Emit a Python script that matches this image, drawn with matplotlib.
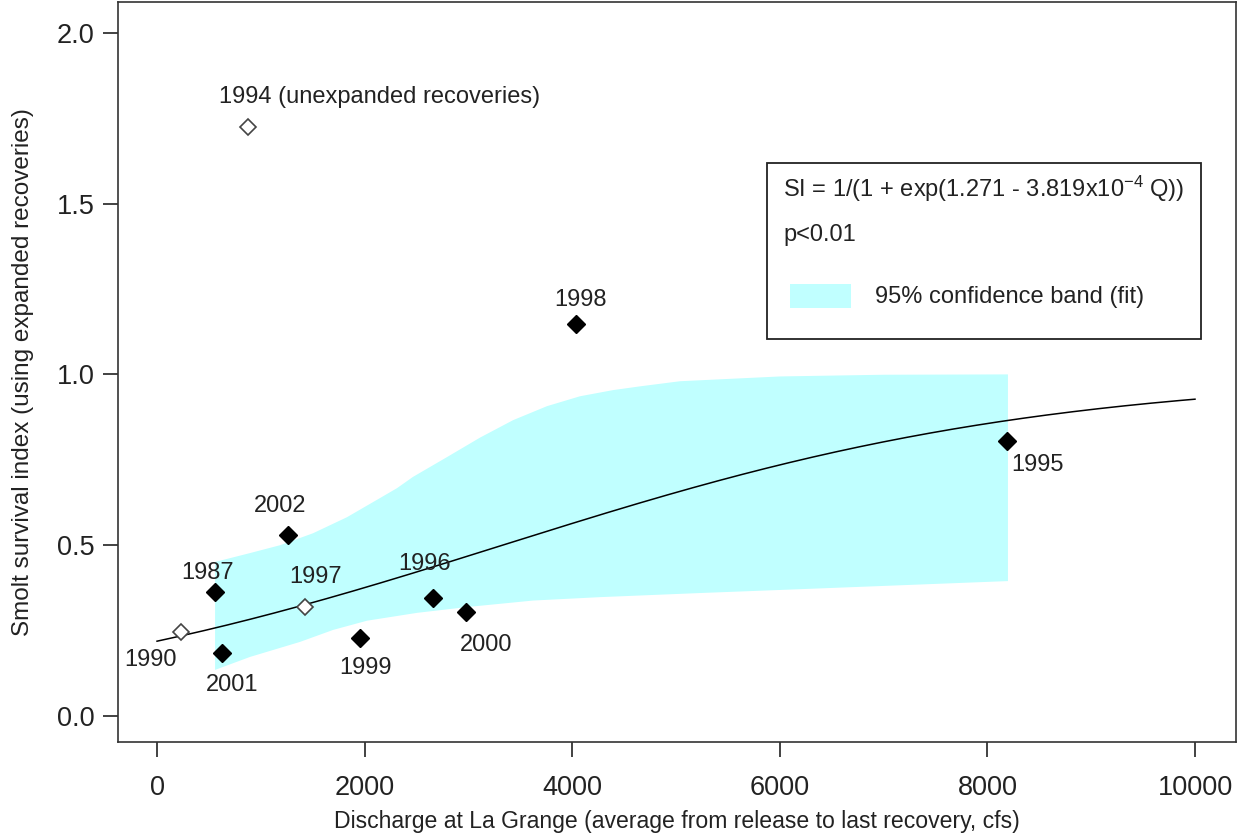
import numpy as np
import matplotlib
matplotlib.use("Agg")
import matplotlib.pyplot as plt
from matplotlib.patches import Rectangle

plt.rcParams["font.family"] = ["Liberation Sans", "DejaVu Sans"]
plt.rcParams["mathtext.fontset"] = "custom"
plt.rcParams["mathtext.rm"] = "Liberation Sans"
plt.rcParams["mathtext.it"] = "Liberation Sans:italic"

# survival index by year (expanded recoveries)
years   = ["1987", "1990", "2001", "2002", "1997", "1999", "1996", "2000", "1998", "1995", "1994"]
flow    = [559, 231, 626, 1262, 1426, 1956, 2659, 2977, 4037, 8190, 877]
surv    = [0.363, 0.246, 0.184, 0.530, 0.319, 0.228, 0.346, 0.305, 1.148, 0.805, 1.725]
hollow  = [False, True, False, False, True, False, False, False, False, False, True]
labels  = ["1987", "1990", "2001", "2002", "1997", "1999", "1996", "2000", "1998", "1995",
           "1994 (unexpanded recoveries)"]
# label offsets (pixels) from each point
offs    = [(-7, 19), (-31, -28), (10, -32), (-8, 29), (11, 30), (5, -30), (-8, 34), (20, -33),
           (4, 24), (30, -24), (132, 30)]

# 95% confidence band of the fit
band_q  = [559, 896, 1185, 1503, 1830, 2148, 2312, 2466, 2794, 3112, 3430, 3757, 4075, 4393,
           4653, 5039, 6002, 7000, 8198]
band_hi = [0.451, 0.477, 0.500, 0.535, 0.582, 0.638, 0.667, 0.700, 0.758, 0.815, 0.866, 0.907,
           0.936, 0.954, 0.965, 0.980, 0.994, 0.999, 1.000]
band_lq = [559, 896, 1378, 1696, 2023, 2505, 2987, 3622, 4268, 5231, 6002, 8198]
band_lo = [0.135, 0.173, 0.217, 0.252, 0.279, 0.302, 0.319, 0.338, 0.348, 0.360, 0.369, 0.395]

# logistic fit SI = 1/(1 + exp(a - b Q))
a, b = 1.271, 3.819e-4

fig = plt.figure(figsize=(12.37, 8.38), dpi=100)
ax = fig.add_axes([118 / 1237, 96 / 838, 1118 / 1237, 740 / 838])

ax.fill(np.r_[band_q, band_lq[::-1]], np.r_[band_hi, band_lo[::-1]],
        color="#c0ffff", lw=0, zorder=1)

q = np.linspace(0, 10000, 400)
ax.plot(q, 1 / (1 + np.exp(a - b * q)), color="black", lw=1.1, zorder=2)

for x, y, h, lab, (dx, dy) in zip(flow, surv, hollow, labels, offs):
    if h:
        ax.plot(x, y, "D", ms=8, mfc="white", mec="#444444", mew=1.2, zorder=3)
    else:
        ax.plot(x, y, "D", ms=9.5, mfc="black", mec="black", zorder=3)
    ax.annotate(lab, (x, y), xytext=(dx, dy), textcoords="offset pixels",
                ha="center", va="center", fontsize=17, color="#222222")

ax.set_xlim(-376, 10395)
ax.set_ylim(-0.076, 2.09)
ax.set_xticks([0, 2000, 4000, 6000, 8000, 10000])
ax.set_yticks([0.0, 0.5, 1.0, 1.5, 2.0])
ax.set_yticklabels(["0.0", "0.5", "1.0", "1.5", "2.0"])
ax.tick_params(length=11, width=1.2, labelsize=19.5, color="#222222", labelcolor="#222222")
ax.tick_params(axis="x", pad=13)
ax.tick_params(axis="y", pad=6)
for s in ax.spines.values():
    s.set_linewidth(1.2)
    s.set_color("#333333")

ax.set_xlabel("Discharge at La Grange (average from release to last recovery, cfs)",
              fontsize=16.6, color="#222222", labelpad=6)
ax.set_ylabel("Smolt survival index (using expanded recoveries)",
              fontsize=17.5, color="#222222", labelpad=16)

# legend box with fit equation
ax.add_patch(Rectangle((0.5805, 0.5446), 0.3882, 0.2378, transform=ax.transAxes,
                       fill=False, ec="#222222", lw=1.3, zorder=4))
ax.text(0.5948, 0.7473, r"SI = 1/(1 + exp(1.271 - 3.819x10$^{-4}$ Q))",
        transform=ax.transAxes, va="center", fontsize=17, color="#222222")
ax.text(0.5948, 0.6851, "p<0.01", transform=ax.transAxes, va="center",
        fontsize=17, color="#222222")
ax.add_patch(Rectangle((0.6011, 0.5865), 0.0546, 0.0324, transform=ax.transAxes,
                       fc="#c0ffff", ec="none", zorder=4))
ax.text(0.6771, 0.6014, "95% confidence band (fit)", transform=ax.transAxes,
        va="center", fontsize=17, color="#222222")

fig.savefig("out.png", dpi=100)
